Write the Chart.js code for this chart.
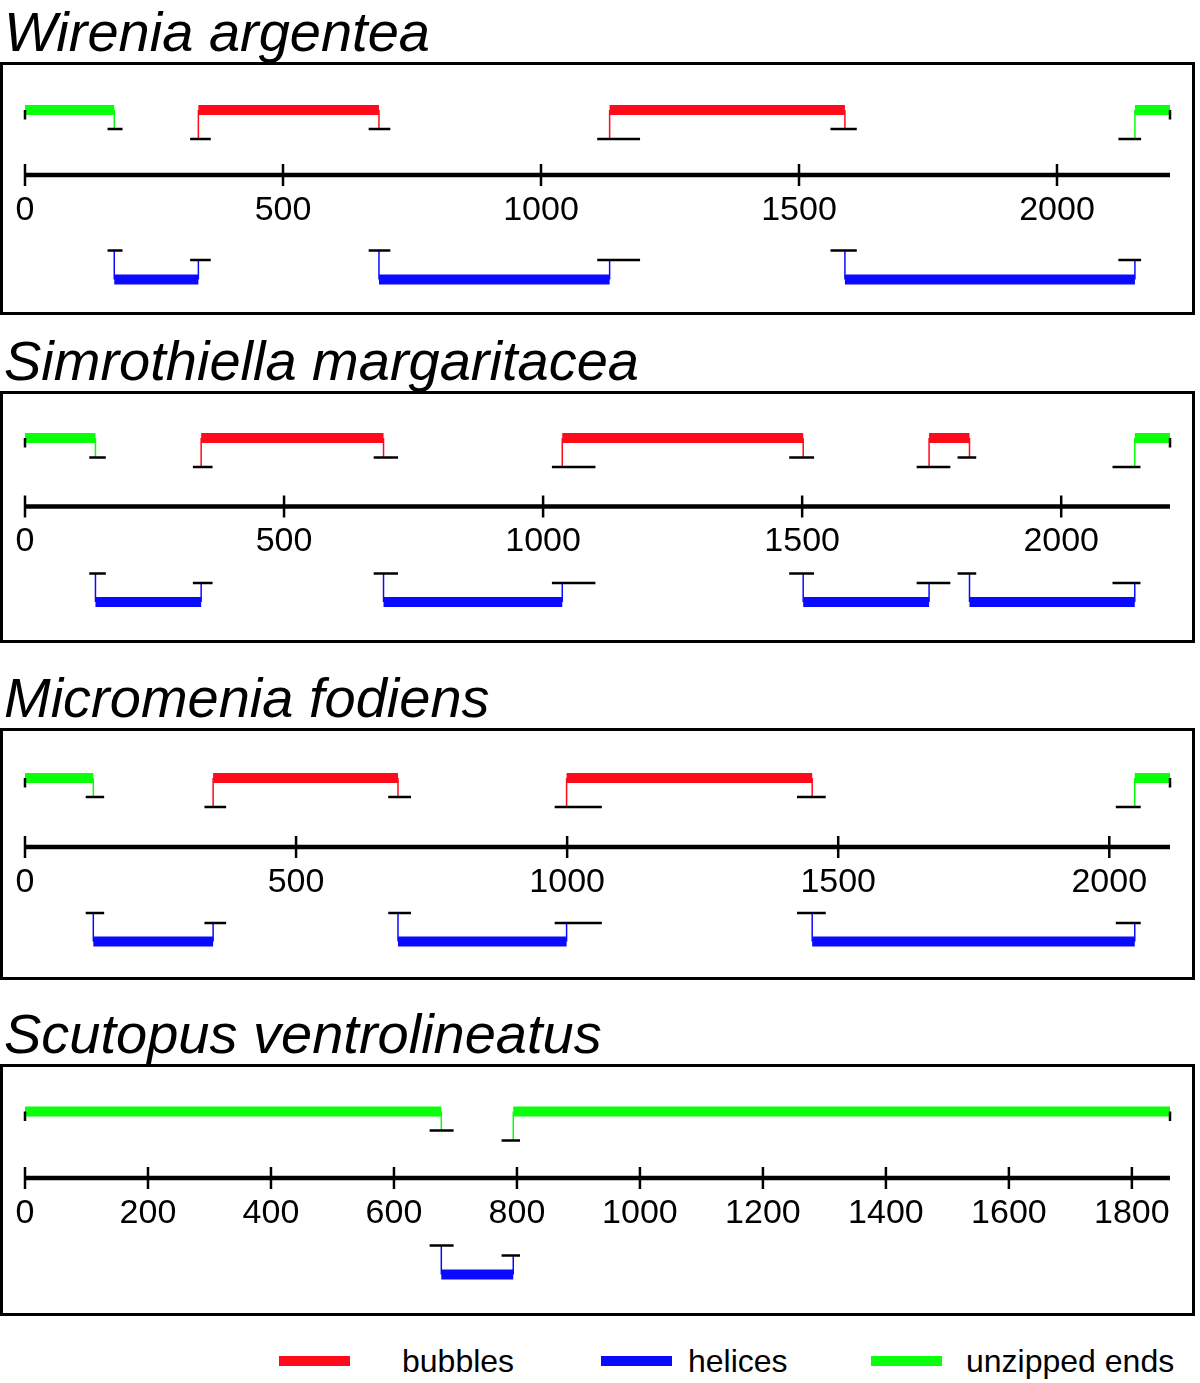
<!DOCTYPE html>
<html>
<head>
<meta charset="utf-8">
<script src="https://cdn.jsdelivr.net/npm/chart.js@4.4.1/dist/chart.umd.min.js"></script>
<style>
  html, body { margin: 0; padding: 0; background: #fff; }
  body { width: 1200px; height: 1383px; position: relative; overflow: hidden;
         font-family: 'Liberation Sans', Arial, sans-serif; color: #000; }
  .title { position: absolute; left: 4px; font-size: 56px; font-style: italic; line-height: 56px; white-space: nowrap; }
  .frame { position: absolute; left: 0; width: 1195px; border: 3px solid #000; box-sizing: border-box; }
  .panel { position: absolute; left: 0; width: 1200px; }
  .legend { position: absolute; top: 1345px; left: 0; width: 1200px; height: 34px; font-size: 32px; line-height: 32px; }
  .legend .sw { position: absolute; top: 11px; width: 71px; height: 10px; }
  .legend .lb { position: absolute; top: 0; white-space: nowrap; }
</style>
</head>
<body>

<div id="root"></div>

<div class="legend">
  <div class="sw" style="left:279px;background:#ff0a1a"></div><span class="lb" style="left:402px">bubbles</span>
  <div class="sw" style="left:601px;background:#0a0aff"></div><span class="lb" style="left:688px">helices</span>
  <div class="sw" style="left:871px;background:#0aff0a"></div><span class="lb" style="left:966px">unzipped ends</span>
</div>

<script>
// ---- data (nucleotide positions) ----
const wireniaLength = 2219;
const wireniaTicks  = [0, 500, 1000, 1500, 2000];
const wireniaKinds  = ['unzipped ends', 'helices', 'bubbles', 'helices', 'bubbles', 'helices', 'unzipped ends'];
const wireniaBounds = [173, 336, 686, 1133, 1589, 2151];
const wireniaLo     = [160, 320, 666, 1109, 1561, 2119];
const wireniaHi     = [189, 360, 708, 1192, 1612, 2163];

const simroLength = 2210;
const simroTicks  = [0, 500, 1000, 1500, 2000];
const simroKinds  = ['unzipped ends', 'helices', 'bubbles', 'helices', 'bubbles', 'helices', 'bubbles', 'helices', 'unzipped ends'];
const simroBounds = [136, 340, 692, 1037, 1502, 1745, 1823, 2142];
const simroLo     = [124, 324, 673, 1017, 1475, 1721, 1800, 2099];
const simroHi     = [156, 362, 720, 1101, 1523, 1786, 1836, 2153];

const microLength = 2112;
const microTicks  = [0, 500, 1000, 1500, 2000];
const microKinds  = ['unzipped ends', 'helices', 'bubbles', 'helices', 'bubbles', 'helices', 'unzipped ends'];
const microBounds = [126, 347, 688, 999, 1452, 2047];
const microLo     = [112, 331, 670, 977, 1424, 2012];
const microHi     = [146, 371, 712, 1064, 1477, 2058];

const scutoLength = 1862;
const scutoTicks  = [0, 200, 400, 600, 800, 1000, 1200, 1400, 1600, 1800];
const scutoKinds  = ['unzipped ends', 'helices', 'unzipped ends'];
const scutoBounds = [677, 794];
const scutoLo     = [658, 775];
const scutoHi     = [697, 805];

const COLORS = { 'bubbles': '#ff0a1a', 'helices': '#0a0aff', 'unzipped ends': '#0aff0a' };

const panels = [
  { name: 'Wirenia argentea', length: wireniaLength, ticks: wireniaTicks, kinds: wireniaKinds, bounds: wireniaBounds, lo: wireniaLo, hi: wireniaHi,
    box: [63, 313], axis: 175, up: [65, 46, 36], dn: [-75.5, -85, -104.5] },
  { name: 'Simrothiella margaritacea', length: simroLength, ticks: simroTicks, kinds: simroKinds, bounds: simroBounds, lo: simroLo, hi: simroHi,
    box: [392, 641], axis: 506.5, up: [68.5, 49, 39.5], dn: [-67, -76.5, -95.5] },
  { name: 'Micromenia fodiens', length: microLength, ticks: microTicks, kinds: microKinds, bounds: microBounds, lo: microLo, hi: microHi,
    box: [729, 978], axis: 847, up: [69, 50, 40], dn: [-66, -76, -94.5] },
  { name: 'Scutopus ventrolineatus', length: scutoLength, ticks: scutoTicks, kinds: scutoKinds, bounds: scutoBounds, lo: scutoLo, hi: scutoHi,
    box: [1065, 1314], axis: 1178, up: [66.5, 47.5, 37.5], dn: [-67.5, -77.5, -96.5] }
];

function seg(points, color, width, label) {
  return {
    label: label || '',
    data: points,
    showLine: true,
    borderColor: color,
    backgroundColor: color,
    borderWidth: width,
    borderCapStyle: 'butt',
    pointRadius: 0,
    pointHoverRadius: 0,
    clip: false
  };
}

function buildDatasets(p) {
  const ds = [];
  const n = p.kinds.length;
  p.kinds.forEach((kind, i) => {
    const upper = kind !== 'helices';
    const [barY, endY, startY] = upper ? p.up : [p.dn[2], p.dn[1], p.dn[0]];
    const start = i === 0 ? 0 : p.bounds[i - 1];
    const end = i === n - 1 ? p.length : p.bounds[i];
    const col = COLORS[kind];

    // start of segment
    if (i > 0) {
      ds.push(seg([{ x: p.lo[i - 1], y: startY }, { x: p.hi[i - 1], y: startY }], '#000', 2.5));
      ds.push(seg([{ x: start, y: barY }, { x: start, y: startY }], col, 1.5));
    } else {
      ds.push(seg([{ x: 0, y: barY }, { x: 0, y: barY - 9.5 }], '#000', 2.5));
    }
    // end of segment
    if (i < n - 1) {
      ds.push(seg([{ x: p.lo[i], y: endY }, { x: p.hi[i], y: endY }], '#000', 2.5));
      ds.push(seg([{ x: end, y: barY }, { x: end, y: endY }], col, 1.5));
    } else {
      ds.push(seg([{ x: p.length, y: barY }, { x: p.length, y: barY - 9.5 }], '#000', 2.5));
    }
    ds.push(seg([{ x: start, y: barY }, { x: end, y: barY }], col, 10, kind));
  });

  // sequence axis and its tick marks
  ds.push(seg([{ x: 0, y: 0 }, { x: p.length, y: 0 }], '#000', 4.5));
  ds.push({
    data: p.ticks.map(v => ({ x: v, y: 0 })),
    pointStyle: 'line',
    rotation: 90,
    pointRadius: 11,
    pointHoverRadius: 11,
    borderColor: '#000',
    borderWidth: 2.5,
    clip: false
  });
  return ds;
}

const root = document.getElementById('root');
panels.forEach(p => {
  const [top, bottom] = p.box;
  const h = bottom - top;

  const title = document.createElement('div');
  title.className = 'title';
  title.style.top = (top - 11.5 - 47.5) + 'px';
  title.textContent = p.name;
  root.appendChild(title);

  const holder = document.createElement('div');
  holder.className = 'panel';
  holder.style.top = top + 'px';
  holder.style.height = h + 'px';
  const canvas = document.createElement('canvas');
  canvas.width = 1200;
  canvas.height = h;
  holder.appendChild(canvas);
  root.appendChild(holder);

  const frame = document.createElement('div');
  frame.className = 'frame';
  frame.style.top = (top - 1.5) + 'px';
  frame.style.height = (h + 3) + 'px';
  root.appendChild(frame);

  new Chart(canvas.getContext('2d'), {
    type: 'scatter',
    data: { datasets: buildDatasets(p) },
    options: {
      responsive: false,
      animation: false,
      events: [],
      layout: { autoPadding: false, padding: { left: 25, right: 30, top: 0, bottom: 0 } },
      plugins: { legend: { display: false }, tooltip: { enabled: false } },
      scales: {
        x: {
          type: 'linear',
          min: 0, max: p.length,
          position: { y: 0 },
          afterBuildTicks: s => { s.ticks = p.ticks.map(v => ({ value: v })); },
          grid: { display: false },
          border: { display: false },
          ticks: {
            color: '#000',
            padding: 7,
            maxRotation: 0,
            autoSkip: false,
            callback: v => String(v),
            font: { size: 34, family: "'Liberation Sans', Arial, sans-serif" }
          }
        },
        y: {
          type: 'linear',
          min: p.axis - bottom,
          max: p.axis - top,
          display: false
        }
      }
    }
  });
});
</script>
</body>
</html>
